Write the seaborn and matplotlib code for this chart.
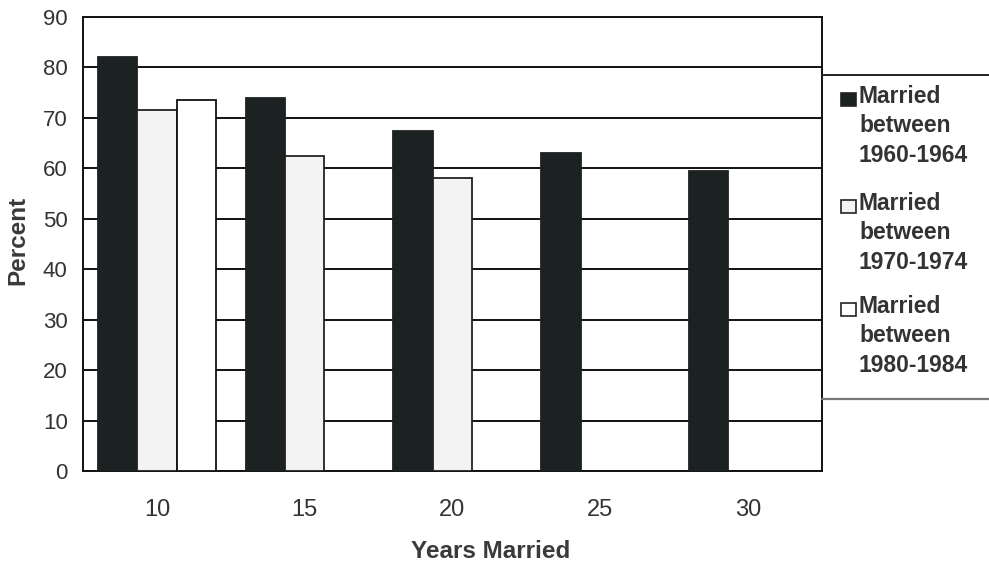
import numpy as np
import pandas as pd
import matplotlib
matplotlib.use("Agg")
import matplotlib.pyplot as plt
from matplotlib.patches import Rectangle
from matplotlib.lines import Line2D
import seaborn as sns

# Percent still married, by years of marriage and marriage cohort
years = ["10", "15", "20", "25", "30"]
cohorts = ["Married\nbetween\n1960-1964", "Married\nbetween\n1970-1974", "Married\nbetween\n1980-1984"]
pct_1960 = [82, 74, 67.5, 63, 59.5]
pct_1970 = [71.5, 62.5, 58, np.nan, np.nan]
pct_1980 = [73.5, np.nan, np.nan, np.nan, np.nan]

fills = ["#1c2121", "#f3f3f3", "#ffffff"]
edges = ["#1c2121", "#222222", "#111111"]

rows = []
for c, vals in zip(cohorts, [pct_1960, pct_1970, pct_1980]):
    for y, v in zip(years, vals):
        if not np.isnan(v):
            rows.append({"years": y, "cohort": c, "percent": v})
df = pd.DataFrame(rows)

sns.set_style("white")
plt.rcParams["font.family"] = ["Liberation Sans", "DejaVu Sans"]

fig = plt.figure(figsize=(9.89, 5.64), dpi=100)
ax = fig.add_axes([83 / 989, 1 - 471 / 564, (822 - 83) / 989, (471 - 17) / 564])

sns.barplot(data=df, x="years", y="percent", hue="cohort", order=years,
            hue_order=cohorts, palette=fills, width=0.8, dodge=True,
            errorbar=None, legend=False, ax=ax, saturation=1)

for bar_group, ec in zip(ax.containers, edges):
    for b in bar_group:
        b.set_edgecolor(ec)
        b.set_linewidth(1.3)
        b.set_zorder(3)

ax.set_ylim(0, 90)
ax.set_yticks(range(0, 91, 10))
ax.yaxis.grid(True, color="#111111", linewidth=1.4)
ax.set_axisbelow(True)
for s in ax.spines.values():
    s.set_color("#111111")
    s.set_linewidth(1.4)
    s.set_visible(True)

ax.tick_params(axis="y", length=0, pad=11, labelsize=16, labelcolor="#333333")
ax.tick_params(axis="x", length=0, pad=20, labelsize=17, labelcolor="#333333")
ax.set_xlabel("")
ax.set_ylabel("")

fig.text(18 / 989, 1 - 240 / 564, "Percent", rotation=90, ha="center", va="center",
         fontsize=17.5, fontweight="bold", color="#3a3a3a")
fig.text(491 / 989, 1 - 551 / 564, "Years Married", ha="center", va="center",
         fontsize=17.5, fontweight="bold", color="#3a3a3a")

# Legend panel to the right of the plot
fig.add_artist(Line2D([822 / 989, 1.0], [1 - 75 / 564] * 2, color="#222222", lw=1.4))
fig.add_artist(Line2D([822 / 989, 1.0], [1 - 399 / 564] * 2, color="#777777", lw=1.6))
entry_tops = [90, 197, 300]
for top, label, fc in zip(entry_tops, cohorts, fills):
    fig.add_artist(Rectangle((841 / 989, 1 - (top + 16) / 564), 15 / 989, 13 / 564,
                             facecolor=fc, edgecolor="#222222", lw=1.2,
                             transform=fig.transFigure))
    fig.text(859 / 989, 1 - (top - 5) / 564, label, ha="left", va="top",
             fontsize=16.5, fontweight="bold", color="#333333", linespacing=1.36)

fig.savefig("out.png", dpi=100)
